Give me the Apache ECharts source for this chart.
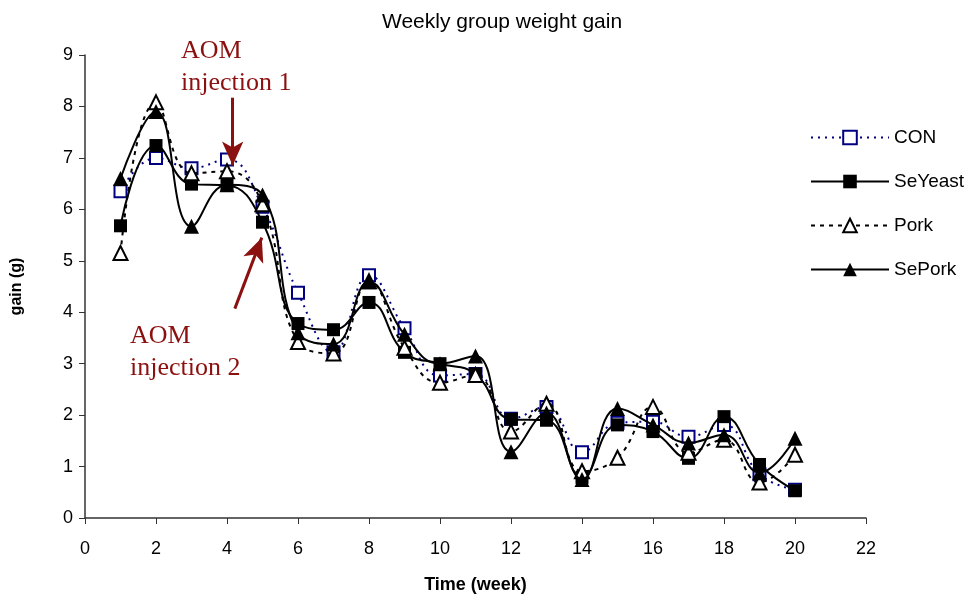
<!DOCTYPE html>
<html>
<head>
<meta charset="utf-8">
<script src="https://cdn.jsdelivr.net/npm/echarts@6/dist/echarts.min.js"></script>
<style>html,body{margin:0;padding:0;background:#fff}#c{width:973px;height:599px}</style>
</head>
<body>
<div id="c"></div>
<script>
const weeks = [1,2,3,4,5,6,7,8,9,10,11,12,13,14,15,16,17,18,19,20];
const CON     = [6.35,7.0,6.8,6.97,6.05,4.38,3.22,4.72,3.69,2.77,2.8,1.93,2.16,1.28,1.85,1.87,1.58,1.81,0.85,0.55];
const SeYeast = [5.68,7.24,6.49,6.47,5.75,3.78,3.66,4.19,3.22,3.0,2.8,1.92,1.9,0.79,1.81,1.68,1.16,1.97,1.04,0.53];
const Pork    = [5.15,8.08,6.7,6.74,6.1,3.42,3.2,4.6,3.31,2.63,2.78,1.68,2.22,0.91,1.17,2.16,1.27,1.52,0.69,1.23];
const SePork  = [6.6,7.9,5.67,6.48,6.28,3.6,3.38,4.59,3.57,3.0,3.15,1.29,2.04,0.75,2.13,1.81,1.46,1.62,0.88,1.55];
const xTicks = [0,22,2];
const yTicks = [0,9,1];

const pair = a => weeks.map((w,i)=>[w,a[i]]);
const font = 'Liberation Sans, Arial, sans-serif';
const red = '#8B1010';

const chart = echarts.init(document.getElementById('c'), null, {renderer:'canvas'});
chart.setOption({
  animation:false,
  backgroundColor:'#fff',
  title:{text:'Weekly group weight gain', left:377, top:7,
    textStyle:{fontFamily:font, fontSize:21, fontWeight:'normal', color:'#000'}},
  grid:{left:85, top:55, width:781, height:469, containLabel:false},
  legend:{orient:'vertical', left:805, top:123, itemWidth:78, itemHeight:17, itemGap:25,
    textStyle:{fontFamily:font, fontSize:19, color:'#000'},
    data:['CON','SeYeast','Pork','SePork']},
  xAxis:{type:'value', min:xTicks[0], max:xTicks[1], interval:xTicks[2],
    name:'Time (week)', nameLocation:'middle', nameGap:58,
    nameTextStyle:{fontFamily:font, fontSize:18, fontWeight:'bold', color:'#000'},
    axisLine:{lineStyle:{color:'#333', width:1.5}},
    axisTick:{length:6, lineStyle:{color:'#333'}},
    axisLabel:{fontFamily:font, fontSize:18, color:'#000', margin:22},
    splitLine:{show:false}},
  yAxis:{type:'value', min:yTicks[0], max:yTicks[1], interval:yTicks[2],
    name:'gain (g)', nameLocation:'middle', nameGap:60, nameRotate:90,
    nameTextStyle:{fontFamily:font, fontSize:16, fontWeight:'bold', color:'#000'},
    axisLine:{show:true, lineStyle:{color:'#333', width:1.5}},
    axisTick:{show:true, length:6, lineStyle:{color:'#333'}},
    axisLabel:{fontFamily:font, fontSize:18, color:'#000', margin:12},
    splitLine:{show:false}},
  series:[
    {name:'CON', type:'line', data:pair(CON), smooth:0.45, symbol:'rect', symbolSize:12,
      lineStyle:{color:'#000080', width:2, type:[2,5]},
      itemStyle:{color:'#fff', borderColor:'#000080', borderWidth:2}, z:2},
    {name:'SeYeast', type:'line', data:pair(SeYeast), smooth:0.45, symbol:'rect', symbolSize:13,
      lineStyle:{color:'#000', width:2},
      itemStyle:{color:'#000', borderColor:'#000', borderWidth:0}, z:3},
    {name:'Pork', type:'line', data:pair(Pork), smooth:0.45, symbol:'triangle', symbolSize:14,
      lineStyle:{color:'#000', width:2, type:[4,5]},
      itemStyle:{color:'#fff', borderColor:'#000', borderWidth:2}, z:4},
    {name:'SePork', type:'line', data:pair(SePork), smooth:0.45, symbol:'triangle', symbolSize:15,
      lineStyle:{color:'#000', width:2},
      itemStyle:{color:'#000', borderColor:'#000', borderWidth:0}, z:5,
      markLine:{silent:true, symbolSize:[16,24], label:{show:false},
        lineStyle:{color:red, width:3, type:'solid'},
        data:[
          [{coord:[4.16,8.17], symbol:'none'},{coord:[4.16,6.85], symbol:'arrow'}],
          [{coord:[4.22,4.07], symbol:'none'},{coord:[4.98,5.45], symbol:'arrow'}]
        ]}}
  ],
  graphic:[
    {type:'text', left:181, top:35, style:{text:'AOM\ninjection 1', fill:red,
      font:'26px "Liberation Serif", "Times New Roman", serif', lineHeight:32}},
    {type:'text', left:130, top:320, style:{text:'AOM\ninjection 2', fill:red,
      font:'26px "Liberation Serif", "Times New Roman", serif', lineHeight:32}}
  ]
});
</script>
</body>
</html>
